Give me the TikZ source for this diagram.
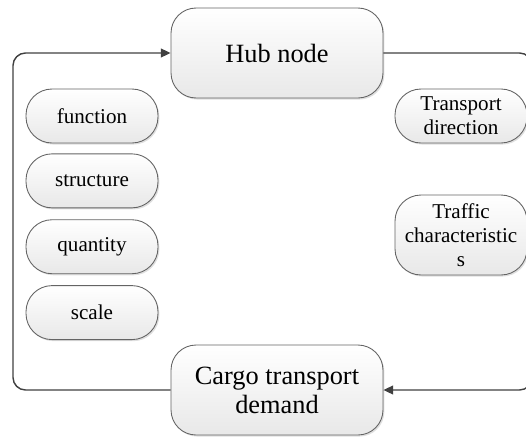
\documentclass[tikz,border=0pt]{standalone}
\usepackage{fontspec}
\setmainfont{Liberation Serif}
\usepackage{xcolor}
\definecolor{linkgray}{RGB}{64,64,64}
\definecolor{boxedge}{RGB}{100,100,100}
\definecolor{boxlow}{RGB}{232,232,232}
\usetikzlibrary{arrows.meta,positioning,shadows}

\begin{document}
\begin{tikzpicture}[x=0.02cm, y=-0.02cm,
      box/.style={draw=boxedge, line width=0.5pt, top color=white, bottom color=boxlow,
                  drop shadow={opacity=0.25, shadow xshift=0.8pt, shadow yshift=-0.9pt},
                  align=center, inner sep=1pt},
      bigbox/.style={box, rounded corners=0.5cm, minimum width=4.24cm, minimum height=1.8cm,
                     font=\fontsize{15}{16.5}\selectfont},
      smallbox/.style={box, rounded corners=0.52cm, minimum width=2.64cm, minimum height=1.08cm,
                       font=\fontsize{12}{13.8}\selectfont},
      link/.style={draw=linkgray, line width=0.8pt, rounded corners=0.25cm},
      arr/.style={link, -{Triangle[length=5.5pt, width=5pt]}}
  ]
    \clip (0,0) rectangle (526,436);
    \node[bigbox] (hub) at (277,53) {Hub node};
    \node[bigbox] (cargo) at (277,390) {Cargo transport\\demand};
    \node[smallbox] (func) at (92,116) {function};
    \node[smallbox, below=0.2cm of func] (struc) {structure};
    \node[smallbox, below=0.22cm of struc] (quant) {quantity};
    \node[smallbox, below=0.22cm of quant] (scale) {scale};
    \node[smallbox] (dir) at (461,116) {Transport\\direction};
    \node[smallbox, minimum height=1.6cm] (traffic) at (461,235)
        {Traffic\\characteristic\\s};
    \coordinate (loopL) at (13,0);
    \coordinate (loopR) at (532,0);
    \draw[arr] (cargo.west) -- (cargo.west -| loopL) |- (hub.west);
    \draw[arr] (hub.east) -- (hub.east -| loopR) |- (cargo.east);
\end{tikzpicture}
\end{document}
